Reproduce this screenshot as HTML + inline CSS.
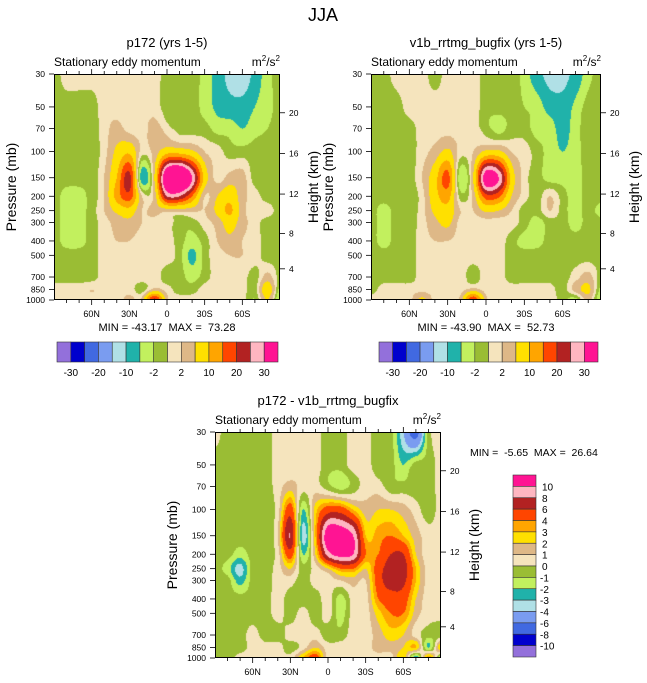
<!DOCTYPE html>
<html><head><meta charset="utf-8">
<style>
html,body{margin:0;padding:0;background:#fff;}
#root{position:relative;width:647px;height:683px;overflow:hidden;font-family:"Liberation Sans",sans-serif;}
canvas{position:absolute;}
svg{position:absolute;left:0;top:0;}
svg text{white-space:pre;}
</style></head>
<body>
<div id="root">
<canvas id="c1" width="226" height="226" style="left:54px;top:74px"></canvas>
<canvas id="c2" width="230" height="226" style="left:371px;top:74px"></canvas>
<canvas id="c3" width="226" height="226" style="left:215px;top:432px"></canvas>
<svg id="ov" width="647" height="683"></svg>
</div>
<script>
const LATS=[90,80,70,60,50,40,30,20,10,0,-10,-20,-30,-40,-50,-60,-70,-80,-90];
const LEVELS=[30,50,70,100,150,200,250,300,400,500,700,850,1000];
const p1Values=[
[-1, 1, 1, 1, 1, 1, 1, 1, 1,-1,-1,-1,-3,-7,-12,-14,-8,-3,-1],
[-1,-1,-1,-1, 1, 1, 1, 1, 1,-1,-1,-1,-3,-6,-8,-8,-5,-3,-1],
[-1,-1,-1,-1, 1, 3, 1, 1, 3, 1,-1,-1,-1,-3,-3,-5,-3,-2,-1],
[-1,-1,-1,-1, 1, 6, 9, 1, 3, 8, 8, 6, 2, 1,-1,-1,-1,-1,-1],
[-1,-1,-1,-1, 2,10,22,-7, 5,40,45,30, 8, 1, 3, 3,-1,-1,-1],
[-1,-3,-3,-1, 2,12,18, 2, 3,25,25,15, 2, 5, 8, 3, 1,-1,-1],
[-1,-3,-3,-1, 2, 6, 8, 2, 3, 3, 3, 3, 2, 6,11, 3, 1, 1,-1],
[-1,-3,-3,-1, 1, 3, 4, 2, 1, 1,-1,-1, 1, 3, 7, 3, 1,-1,-1],
[-1,-3,-3,-1, 1, 2, 2, 1, 1, 1,-1,-3,-1, 2, 4, 2, 1,-1,-1],
[-1,-1,-1,-1, 1, 1, 1, 1, 1, 1,-1,-6,-1, 1, 2, 2, 1,-1,-1],
[-1,-1,-1,-1, 1, 1, 1, 1, 1,-1,-1,-3,-1, 1, 1, 1,-1, 3,-1],
[ 1, 1, 1, 2, 1, 1, 1,-1, 3, 1,-1,-1, 1, 1, 1, 1,-1, 8,-3],
[ 1, 1, 1, 1, 2, 1, 3, 3,22, 3, 1, 1, 1, 1, 1, 1,-2, 5,-5]];
const p2Values=[
[-1,-1, 1, 1, 1,-1, 1, 1, 1,-1,-1,-1,-3,-8,-12,-12,-8,-3,-1],
[-1,-1,-1, 1, 1, 1, 1, 1, 1,-1,-1,-1,-2,-3,-7,-8,-4,-1,-1],
[-1,-1,-1,-1, 1, 1, 1, 1, 1,-1,-3,-1,-1,-3,-3,-7,-3,-1,-1],
[-1,-1,-1,-1, 1, 3, 6, 1, 2, 6, 6, 2, 1,-1,-3,-5,-3,-1,-1],
[-1,-1,-1,-1, 2, 8,17,-4, 5,35,30, 8, 1,-1,-3,-3,-3,-1,-1],
[-1,-1,-1,-1, 1, 8,12,-1, 3,18,16, 5, 1,-1, 2,-1,-3,-1,-1],
[-1,-3,-1,-1, 1, 6, 8, 2, 2, 6, 5, 2,-1,-1, 2,-1,-3,-1,-3],
[-1,-3,-1,-1, 1, 4, 6, 1, 1, 1, 1, 1,-1,-3,-1,-1,-3,-1,-1],
[-1,-3,-1,-1, 1, 2, 2, 1, 1, 1, 1,-1,-3,-3,-1,-1,-1,-1,-1],
[-1,-1,-1,-1, 1, 1, 1, 1, 1, 1, 1,-1,-1,-1,-1,-1,-1,-1,-1],
[-1,-1,-1,-1, 1, 1, 1, 1,-1, 1, 1,-1,-1,-1,-1,-1, 1, 3,-1],
[-1, 1, 1, 1, 1, 1, 1, 1, 3, 1, 1, 1, 1, 1, 1,-1, 3, 6,-3],
[ 1, 1, 1, 1, 6, 1, 1, 3,20, 3, 1, 1, 1, 1, 1,-1,-3, 3,-5]];
const diffValues=[
[0.5,-0.6,-0.6,-0.6,-0.6,0.5,0.5,0.5,0.5,-0.6,-0.6,0.5,0.5,-0.6,-0.6,-4,-7,-0.6,0.5],
[-0.6,-0.6,-0.6,-0.6,-0.6,0.5,0.5,0.5,0.5,-0.6,-0.6,0.5,0.5,-0.6,-0.6,-2,-0.6,-0.6,0.5],
[-0.6,-0.6,-0.6,-0.6,-0.6,0.5,1.5,0.5,0.5,-0.6,-1.5,-0.6,0.5,0.5,-0.6,-0.6,-0.6,-0.6,0.5],
[-0.6,-0.6,-0.6,-0.6,-0.6,0.5,5,-2,2.5,5,5,3,1.5,2,2,1.5,0.5,-0.6,0.5],
[-0.6,-0.6,-0.6,-0.6,-0.6,1,8,-3.5,3,12,12,10,3,3.5,4,3,1.5,0.5,0.5],
[-0.6,-0.6,-1.5,-0.6,-0.6,0.5,5,-2,2,9,11,10,4,4,6,6,2,0.5,0.5],
[-0.6,-1.5,-3.5,-0.6,-0.6,0.5,2,-0.6,0.5,2,4,4,2,5,7,7,3,0.5,0.5],
[-0.6,-0.6,-2.5,-0.6,-0.6,0.5,0.5,-0.6,0.5,0.5,1,1.5,1,5,7,6.5,3,0.5,0.5],
[-0.6,-0.6,-0.6,-0.6,-0.6,0.5,-0.6,-0.6,-0.6,0.5,-1.5,0.5,0.5,4,5,5,2,0.5,0.5],
[-0.6,-0.6,-0.6,-0.6,-0.6,0.5,-0.6,0.5,-0.6,0.5,-1.5,0.5,0.5,2.5,4,4,1.5,0.5,0.5],
[-0.6,-0.6,-0.6,0.5,-0.6,-0.6,0.5,0.5,0.5,-0.6,-0.6,0.5,0.5,1.5,2.5,2,0.5,-0.6,-0.6],
[-0.6,-0.6,-0.6,0.5,0.5,0.5,-0.6,0.5,2,0.5,0.5,0.5,0.5,1.5,1.5,2,3,-2,3],
[-0.6,-0.6,0.5,0.5,0.5,0.5,0.5,3,5,0.5,0.5,0.5,0.5,0.5,0.5,3,-3,4,-2]];
const cbLevelsMain=[-30,-25,-20,-15,-10,-5,-2,0,2,5,10,15,20,25,30];
const cbLabelsMain=["-30","-20","-10","-2","2","10","20","30"];
const cbLevelsDiff=[-10,-8,-6,-4,-3,-2,-1,0,1,2,3,4,6,8,10];
const latTickLabels=["60N","30N","0","30S","60S"];
const latTickValues=[60,30,0,-30,-60];
const presTicks=[30,50,70,100,150,200,250,300,400,500,700,850,1000];
const heightTicks=[4,8,12,16,20];
const minMax1=["-43.17","73.28"],minMax2=["-43.90","52.73"],minMax3=["-5.65","26.64"];
const PAL=['#9370db','#0000cd','#4169e1','#7a9cf0','#b0e0e6','#20b2aa','#c2f05e','#9abd34','#f5e4bd','#deb887','#ffe000','#ffa500','#ff4500','#b22222','#ffb6c1','#ff1493'];

function hex(c){return [parseInt(c.substr(1,2),16),parseInt(c.substr(3,2),16),parseInt(c.substr(5,2),16)];}
const PALRGB=PAL.map(hex);
function cr(a,b,c,d,t){return 0.5*((2*b)+(-a+c)*t+(2*a-5*b+4*c-d)*t*t+(-a+3*b-3*c+d)*t*t*t);}
function sample(g,fi,fj){
  const R=g.length,C=g[0].length;
  const i=Math.floor(fi),j=Math.floor(fj),ti=fi-i,tj=fj-j;
  const row=r=>{r=Math.max(0,Math.min(R-1,r));const a=g[r];const q=k=>a[Math.max(0,Math.min(C-1,k))];
    return cr(q(j-1),q(j),q(j+1),q(j+2),tj);};
  return cr(row(i-1),row(i),row(i+1),row(i+2),ti);
}
const LT=Math.log10(1000/30);
function yOfP(p,y0,h){return y0+h*Math.log10(p/30)/LT;}
function xOfLat(l,x0,w){return x0+w*(90-l)/180;}
function drawField(id,grid,levels){
  const cv=document.getElementById(id),ctx=cv.getContext('2d');
  const W=cv.width,H=cv.height,img=ctx.createImageData(W,H);
  const lg=LEVELS.map(Math.log10);
  for(let y=0;y<H;y++){
    const lp=Math.log10(30)+(y+0.5)/H*LT;
    let k=0;while(k<lg.length-2&&lp>lg[k+1])k++;
    const fi=k+(lp-lg[k])/(lg[k+1]-lg[k]);
    for(let x=0;x<W;x++){
      const fj=(x+0.5)/W*(LATS.length-1);
      const v=sample(grid,fi,fj);
      let c=0;while(c<levels.length&&v>=levels[c])c++;
      const rgb=PALRGB[c],o=(y*W+x)*4;
      img.data[o]=rgb[0];img.data[o+1]=rgb[1];img.data[o+2]=rgb[2];img.data[o+3]=255;
    }
  }
  ctx.putImageData(img,0,0);
}
drawField('c1',p1Values,cbLevelsMain);
drawField('c2',p2Values,cbLevelsMain);
drawField('c3',diffValues,cbLevelsDiff);

const NS='http://www.w3.org/2000/svg',ov=document.getElementById('ov');
function el(tag,attrs,parent){const e=document.createElementNS(NS,tag);for(const k in attrs)e.setAttribute(k,attrs[k]);(parent||ov).appendChild(e);return e;}
function txt(s,x,y,size,anchor,parent){const t=el('text',{x:x,y:y,'font-size':size,'text-anchor':anchor||'start',fill:'#000','font-family':'Liberation Sans, sans-serif'},parent);t.textContent=s;return t;}
function pOfZ(z){z*=1000;if(z<=11000)return 1013.25*Math.pow(1-2.2558e-5*z,5.256);return 226.3*Math.exp(-(z-11000)/6341.6);}

function axes(name,x0,y0,w,h,title){
  const g=el('g',{});
  
  
  el('rect',{x:x0+0.5,y:y0+0.5,width:w-1,height:h-1,fill:'none',stroke:'#000','stroke-width':1},g);
  for(let l=80;l>=-80;l-=10){
    const x=xOfLat(l,x0,w),maj=(l%30===0);
    el('line',{x1:x,y1:y0,x2:x,y2:y0-(maj?5:3),stroke:'#000','stroke-width':0.8},g);
    el('line',{x1:x,y1:y0+h,x2:x,y2:y0+h+(maj?5:3),stroke:'#000','stroke-width':0.8},g);
  }
  latTickValues.forEach((l,i)=>{const t=txt(latTickLabels[i],xOfLat(l,x0,w),y0+h+17,9,'middle',g);
    
    });
  presTicks.forEach(p=>{const y=yOfP(p,y0,h);
    el('line',{x1:x0,y1:y,x2:x0-5,y2:y,stroke:'#000','stroke-width':0.8},g);
    const t=txt(String(p),x0-9,y+3,8.5,'end',g);
    
    });
  heightTicks.forEach(z=>{const y=yOfP(pOfZ(z),y0,h);
    el('line',{x1:x0+w,y1:y,x2:x0+w+5,y2:y,stroke:'#000','stroke-width':0.8},g);
    const t=txt(String(z),x0+w+9,y+3,8.5,'start',g);
    
    });
  const yt=txt('Pressure (mb)',0,0,14,'middle',g);
  yt.setAttribute('transform','translate('+(x0-38)+','+(y0+h/2)+') rotate(-90)');
  
  
  const ht=txt('Height (km)',0,0,14,'middle',g);
  ht.setAttribute('transform','translate('+(x0+w+38)+','+(y0+h/2)+') rotate(-90)');
  
  
  const st=txt('Stationary eddy momentum',x0,y0-8,12,'start',g);
  
  
  const ut=el('text',{x:x0+w,y:y0-8,'font-size':12,'text-anchor':'end','font-family':'Liberation Sans, sans-serif'},g);
  ut.innerHTML='m<tspan dy="-5" font-size="8">2</tspan><tspan dy="5">/s</tspan><tspan dy="-5" font-size="8">2</tspan>';
  
  
  const tt=txt(title,x0+w/2,y0-27,13,'middle',g);
  
  
}
function hbar(x0,y0,w,h,name){
  const g=el('g',{});
  
  
  const bw=w/PAL.length;
  PAL.forEach((c,i)=>{const r=el('rect',{x:x0+i*bw,y:y0,width:bw,height:h,fill:c,stroke:'#333','stroke-width':0.6},g);
    
    });
  cbLabelsMain.forEach((s,k)=>{const t=txt(s,x0+(2*k+1)*bw,y0+h+14,10,'middle',g);
    
    });
}
const jt=txt('JJA',323,21,18,'middle');


axes('p172',54,74,226,226,'p172 (yrs 1-5)');
axes('v1b',371,74,230,226,'v1b_rrtmg_bugfix (yrs 1-5)');
axes('diff',215,432,226,226,'p172 - v1b_rrtmg_bugfix');
const m1=txt('MIN = '+minMax1[0]+'  MAX =  '+minMax1[1],167,331,11,'middle');


const m2=txt('MIN = '+minMax2[0]+'  MAX =  '+minMax2[1],486,331,11,'middle');


const m3=txt('MIN =  '+minMax3[0]+'  MAX =  '+minMax3[1],470,456,10.5,'start');


hbar(57,342,221,20,'colorbar-p172');
hbar(379,342,219,20,'colorbar-v1b');
(function(){
  const g=el('g',{});
  
  
  const x0=513,y0=475,w=23,H=182,bh=H/PAL.length;
  for(let i=0;i<PAL.length;i++){
    const c=PAL[PAL.length-1-i];
    const r=el('rect',{x:x0,y:y0+i*bh,width:w,height:bh,fill:c,stroke:'#333','stroke-width':0.6},g);
    
    
  }
  for(let k=0;k<cbLevelsDiff.length;k++){
    const v=cbLevelsDiff[cbLevelsDiff.length-1-k];
    const t=txt(String(v),x0+w+(v<0?4:6),y0+(k+1)*bh+4,10,'start',g);
    
    
  }
})();
</script>
</body></html>
